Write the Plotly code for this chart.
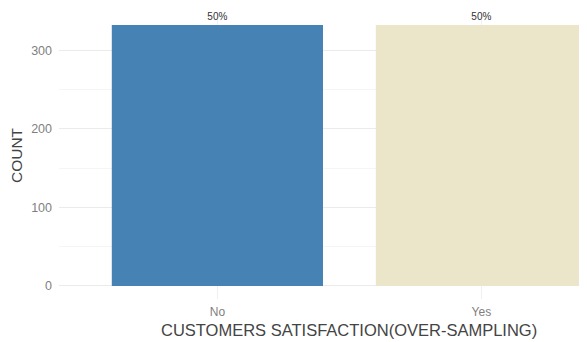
import plotly.graph_objects as go

categories = ["No", "Yes"]
counts = [332, 332]
labels = ["50%", "50%"]
colors = ["#4682B4", "#EBE6CA"]
y_ticks = [0, 100, 200, 300]
x_title = "CUSTOMERS SATISFACTION(OVER-SAMPLING)"

fig = go.Figure()
fig.add_trace(go.Bar(
    x=[0, 1], y=counts, width=0.8, marker=dict(color=colors, line=dict(width=0)),
    text=labels, textposition="outside", cliponaxis=False,
    textfont=dict(size=10, color="#333333", family="Liberation Sans"),
    showlegend=False,
))
ymax = max(counts) * 1.05
fig.update_layout(
    width=579, height=334,
    margin=dict(l=51, r=0, t=4, b=43),
    plot_bgcolor="white", paper_bgcolor="white",
    font=dict(family="Liberation Sans, Arial", color="#7f7f7f"),
    bargap=0.2,
)
# axis title centred on the full (cropped) panel, as in the reference
fig.add_annotation(
    x=0.5, xref="x", y=0, yref="paper", yanchor="middle", yshift=-31,
    text=x_title, showarrow=False,
    font=dict(size=16.5, color="#444444"),
)
fig.update_xaxes(
    range=[-0.6, 1.4], tickvals=[0, 1], ticktext=categories,
    showgrid=True, gridcolor="#F0F0F0", gridwidth=1,
    zeroline=False, ticks="", tickfont=dict(size=12, color="#7f7f7f"),
    ticklabelstandoff=4,
)
fig.update_yaxes(
    range=[-max(counts) * 0.05, ymax], tickvals=y_ticks,
    showgrid=True, gridcolor="#EBEBEB", gridwidth=1,
    minor=dict(tickvals=[50, 150, 250], showgrid=True, gridcolor="#F5F5F5", gridwidth=1),
    zeroline=False, ticks="", tickfont=dict(size=12.5, color="#7f7f7f"),
    ticklabelstandoff=6,
    title=dict(text="COUNT", font=dict(size=15.5, color="#444444"), standoff=8),
)
fig.write_html("out.html")
